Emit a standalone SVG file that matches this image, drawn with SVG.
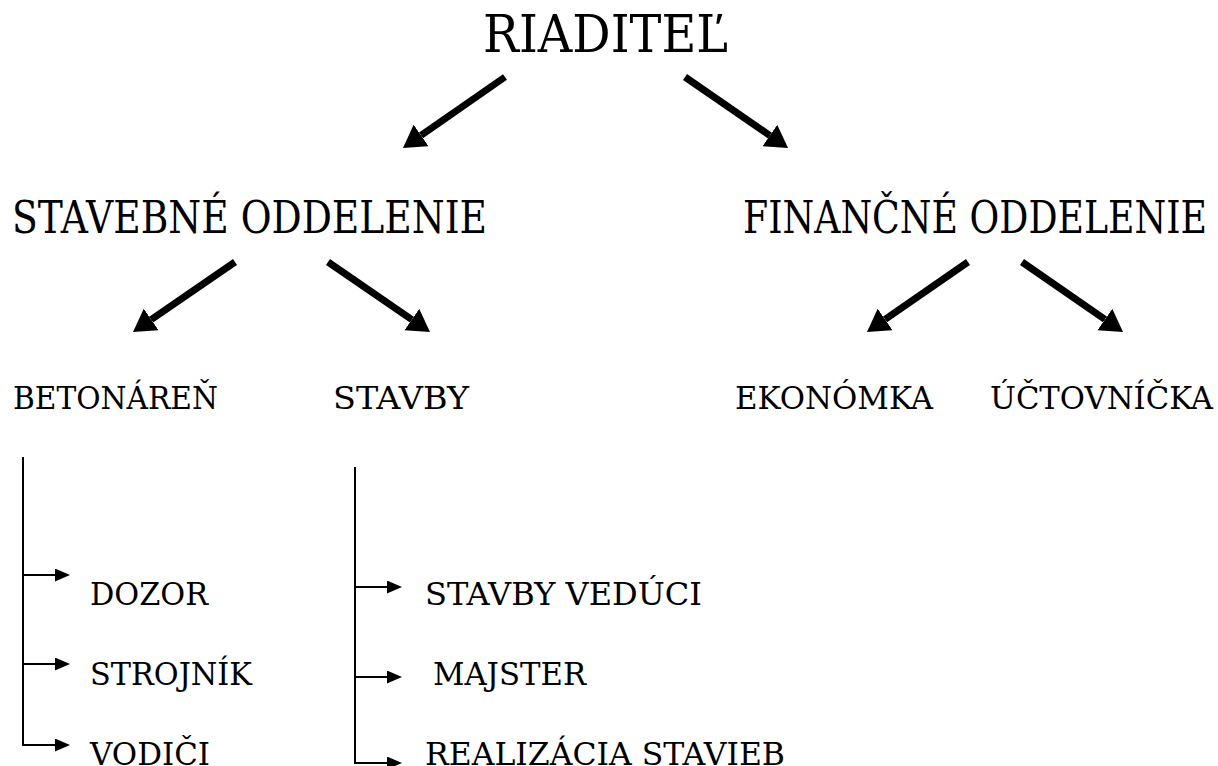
<svg xmlns="http://www.w3.org/2000/svg" width="1218" height="766" viewBox="0 0 1218 766">
<defs>
<style>
text{fill:#000;font-family:'DejaVu Serif','Liberation Serif',serif}
.big{stroke:#000;stroke-width:7;fill:none;marker-end:url(#bigHead)}
.thin{stroke:#000;stroke-width:2;fill:none}
.thinA{stroke:#000;stroke-width:2;fill:none;marker-end:url(#smallHead)}
</style>
<marker id="bigHead" markerUnits="userSpaceOnUse" markerWidth="24" markerHeight="28" refX="0" refY="13" orient="auto" viewBox="0 0 24 28">
<path d="M0,0 L22,13 L0,26 z" fill="#000"/>
</marker>
<marker id="smallHead" markerUnits="userSpaceOnUse" markerWidth="16" markerHeight="14" refX="0" refY="6.5" orient="auto" viewBox="0 0 16 14">
<path d="M0,0 L15,6.5 L0,13 z" fill="#000"/>
</marker>
</defs>
<rect width="1218" height="766" fill="#fff"/>
<g id="connectors">
<line class="big" x1="505" y1="77" x2="421.05" y2="135.43"/>
<line class="big" x1="685" y1="77" x2="769.89" y2="135.51"/>
<line class="big" x1="235" y1="262" x2="151.14" y2="319.55"/>
<line class="big" x1="328" y1="262" x2="411.86" y2="319.55"/>
<line class="big" x1="968" y1="262" x2="885.08" y2="319.47"/>
<line class="big" x1="1022" y1="262" x2="1104.92" y2="319.47"/>
<line class="thin" x1="23" y1="457" x2="23" y2="746"/>
<line class="thinA" x1="22" y1="575" x2="55" y2="575"/>
<line class="thinA" x1="22" y1="664" x2="55" y2="664"/>
<line class="thinA" x1="22" y1="745" x2="55" y2="745"/>
<line class="thin" x1="355" y1="467" x2="355" y2="764"/>
<line class="thinA" x1="354" y1="587" x2="387" y2="587"/>
<line class="thinA" x1="354" y1="677" x2="387" y2="677"/>
<line class="thinA" x1="354" y1="763" x2="387" y2="763"/>
</g>
<g id="riaditel"><text x="483" y="52" font-size="52" textLength="245" lengthAdjust="spacingAndGlyphs">RIADITEĽ</text></g>
<g id="stavebne"><text x="12" y="233" font-size="45" textLength="475" lengthAdjust="spacingAndGlyphs">STAVEBNÉ ODDELENIE</text></g>
<g id="financne"><text x="743" y="233" font-size="45" textLength="464" lengthAdjust="spacingAndGlyphs">FINANČNÉ ODDELENIE</text></g>
<g id="betonaren"><text x="13" y="409" font-size="32" textLength="205" lengthAdjust="spacingAndGlyphs">BETONÁREŇ</text></g>
<g id="stavby"><text x="333" y="409" font-size="32" textLength="136" lengthAdjust="spacingAndGlyphs">STAVBY</text></g>
<g id="ekonomka"><text x="735" y="409" font-size="32" textLength="198" lengthAdjust="spacingAndGlyphs">EKONÓMKA</text></g>
<g id="uctovnicka"><text x="990" y="409" font-size="32" textLength="223" lengthAdjust="spacingAndGlyphs">ÚČTOVNÍČKA</text></g>
<g id="dozor"><text x="90" y="605" font-size="32" textLength="118" lengthAdjust="spacingAndGlyphs">DOZOR</text></g>
<g id="strojnik"><text x="90" y="685" font-size="32" textLength="162" lengthAdjust="spacingAndGlyphs">STROJNÍK</text></g>
<g id="vodici"><text x="90" y="765" font-size="32" textLength="120" lengthAdjust="spacingAndGlyphs">VODIČI</text></g>
<g id="veduci"><text x="425" y="605" font-size="32" textLength="277" lengthAdjust="spacingAndGlyphs">STAVBY VEDÚCI</text></g>
<g id="majster"><text x="433" y="685" font-size="32" textLength="153" lengthAdjust="spacingAndGlyphs">MAJSTER</text></g>
<g id="realizacia"><text x="425" y="765" font-size="32" textLength="360" lengthAdjust="spacingAndGlyphs">REALIZÁCIA STAVIEB</text></g>
</svg>
